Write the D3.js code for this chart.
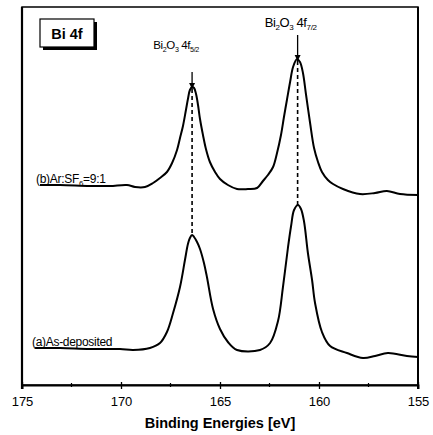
<!DOCTYPE html>
<html><head><meta charset="utf-8">
<script src="https://cdn.jsdelivr.net/npm/d3@7"></script>
<style>
html,body{margin:0;padding:0;background:#fff;}
svg{display:block;font-family:"Liberation Sans",Arial,sans-serif;}
</style></head>
<body>
<svg id="chart" width="433" height="435"></svg>
<script>
// ---- data (binding energy in eV, intensity in arbitrary units) ----
const beB = [174.09,173.08,171.57,170.56,169.70,169.29,168.79,168.38,168.03,167.68,167.42,167.17,167.02,166.87,166.72,166.62,166.52,166.41,166.31,166.21,166.11,166.01,165.86,165.71,165.51,165.25,165.00,164.60,164.14,163.59,163.13,162.83,162.58,162.32,162.12,161.92,161.77,161.62,161.46,161.31,161.11,160.96,160.81,160.66,160.45,160.25,160.05,159.85,159.55,159.29,158.79,157.93,157.17,156.57,155.91,155.00];
const intB = [200,200,199,199,200,198,198,202,207,213,222,235,247,259,275,286,295,298,297,291,280,266,250,236,223,213,206,200,196,196,197,204,210,218,232,250,268,285,303,318,326,323,312,291,262,237,223,213,205,201,196,191,192,194,191,190];
const beA = [174.34,173.08,171.57,170.05,169.39,168.54,168.03,167.68,167.37,167.02,166.77,166.62,166.52,166.41,166.31,166.16,166.01,165.81,165.66,165.35,165.00,164.60,164.14,162.98,162.47,162.07,161.82,161.57,161.41,161.26,161.06,160.91,160.76,160.56,160.35,160.20,159.85,159.44,158.59,157.78,157.17,156.52,155.56,155.00];
const intA = [37,37,36,36,35,37,42,53,72,98,125,141,147,150,148,143,136,122,108,76,56,43,35,35,42,64,98,137,159,175,180,176,164,132,105,82,53,39,32,27,29,32,29,28];
const seriesLabels = ["(b)Ar:SF","(a)As-deposited"];
const peakBE = [166.41, 161.08];          // 4f5/2, 4f7/2
const peakTop = [298, 326];               // intensity of peaks in (b)
const peakBottom = [150, 180];            // intensity of peaks in (a)
const xTicks = [175,170,165,160,155];
const xMinor = [172.5,167.5,162.5,157.5];
const xDomain = [175,155];
const yDomain = [0,378];

// ---- layout ----
const W=433,H=435, m={l:22,r:15,t:7,b:50};
const svg=d3.select("#chart");
const x=d3.scaleLinear().domain(xDomain).range([m.l,W-m.r]);
const y=d3.scaleLinear().domain(yDomain).range([H-m.b,m.t]);

svg.append("defs").append("marker").attr("id","arr").attr("viewBox","0 0 10 10")
  .attr("refX",10).attr("refY",5).attr("markerWidth",5).attr("markerHeight",6).attr("orient","auto")
  .append("path").attr("d","M0,0L10,5L0,10Z").attr("fill","#000");

// frame
svg.append("rect").attr("x",m.l).attr("y",m.t).attr("width",W-m.l-m.r).attr("height",H-m.t-m.b)
  .attr("fill","none").attr("stroke","#000").attr("stroke-width",1.5);
svg.append("line").attr("x1",m.l).attr("x2",m.l).attr("y1",m.t).attr("y2",H-m.b+4).attr("stroke","#000").attr("stroke-width",2.2);
svg.append("line").attr("x1",W-m.r).attr("x2",W-m.r).attr("y1",m.t).attr("y2",H-m.b+4).attr("stroke","#000").attr("stroke-width",2);

// x axis
const ax=svg.append("g").attr("transform",`translate(0,${H-m.b})`)
  .call(d3.axisBottom(x).tickValues(xTicks).tickSize(4).tickPadding(8).tickFormat(d3.format("d")));
ax.select(".domain").attr("stroke-width",1.8);
ax.selectAll("text").attr("font-size",13).attr("fill","#000").attr("font-family","'Liberation Sans',Arial,sans-serif");
ax.selectAll(".tick line").attr("y1",-3).attr("stroke-width",1.3);
svg.append("g").selectAll("line").data(xMinor).join("line")
  .attr("x1",d=>x(d)).attr("x2",d=>x(d)).attr("y1",H-m.b-2).attr("y2",H-m.b+2).attr("stroke","#000").attr("stroke-width",1.2);

svg.append("text").attr("x",(m.l+W-m.r)/2).attr("y",428).attr("text-anchor","middle")
  .attr("font-size",14.5).attr("font-weight","bold").text("Binding Energies [eV]");

// dashed guide lines
svg.append("g").selectAll("line").data(peakBE).join("line")
  .attr("x1",d=>x(d)).attr("x2",d=>x(d))
  .attr("y1",(d,i)=>y(peakTop[i])+2).attr("y2",(d,i)=>y(peakBottom[i]))
  .attr("stroke","#000").attr("stroke-width",1.6).attr("stroke-dasharray","4,3");

// curves
const line=d3.line().x(d=>x(d[0])).y(d=>y(d[1])).curve(d3.curveCatmullRom.alpha(0.5));
[[beB,intB],[beA,intA]].forEach(([b,v])=>{
  svg.append("path").datum(b.map((e,i)=>[e,v[i]])).attr("d",line)
    .attr("fill","none").attr("stroke","#000").attr("stroke-width",2).attr("stroke-linejoin","round");
});

// arrows
const arrowTop=[313,350];
svg.append("g").selectAll("line").data(peakBE).join("line")
  .attr("x1",d=>x(d)).attr("x2",d=>x(d))
  .attr("y1",(d,i)=>y(arrowTop[i])).attr("y2",(d,i)=>y(peakTop[i])+2)
  .attr("stroke","#000").attr("stroke-width",1.3).attr("marker-end","url(#arr)");

// peak labels
function peakLabel(cx,cy,fs,sub1,sub2){
  const t=svg.append("text").attr("x",cx).attr("y",cy).attr("text-anchor","middle").attr("font-size",fs)
    .attr("letter-spacing",-0.4);
  t.append("tspan").text("Bi");
  t.append("tspan").attr("font-size",fs*0.62).attr("dy",fs*0.25).text("2");
  t.append("tspan").attr("dy",-fs*0.25).text("O");
  t.append("tspan").attr("font-size",fs*0.62).attr("dy",fs*0.25).text("3");
  t.append("tspan").attr("dy",-fs*0.25).text(" 4f");
  t.append("tspan").attr("font-size",fs*0.62).attr("dy",fs*0.25).text(sub1+"/"+sub2);
}
peakLabel(x(peakBE[0])-16,49,11.5,"5","2");
peakLabel(x(peakBE[1])-7,27,13,"7","2");

// series labels
const sb=svg.append("text").attr("x",36).attr("y",y(intB[0])-2).attr("font-size",12).attr("letter-spacing",-0.3);
sb.append("tspan").text(seriesLabels[0]);
sb.append("tspan").attr("font-size",8).attr("dy",3).text("6");
sb.append("tspan").attr("dy",-3).text("=9:1");
svg.append("text").attr("x",32).attr("y",y(intA[0])-2).attr("font-size",12).attr("letter-spacing",-0.3).text(seriesLabels[1]);

// Bi 4f box with shadow
const bx=40, by=19, bw=54, bh=28;
svg.append("rect").attr("x",bx+3).attr("y",by+3).attr("width",bw).attr("height",bh).attr("fill","#000");
svg.append("rect").attr("x",bx).attr("y",by).attr("width",bw).attr("height",bh).attr("fill","#fff").attr("stroke","#000").attr("stroke-width",1.2);
svg.append("text").attr("x",bx+bw/2).attr("y",by+19.5).attr("text-anchor","middle").attr("font-size",14.5).attr("font-weight","bold").text("Bi 4f");
</script>
</body></html>
